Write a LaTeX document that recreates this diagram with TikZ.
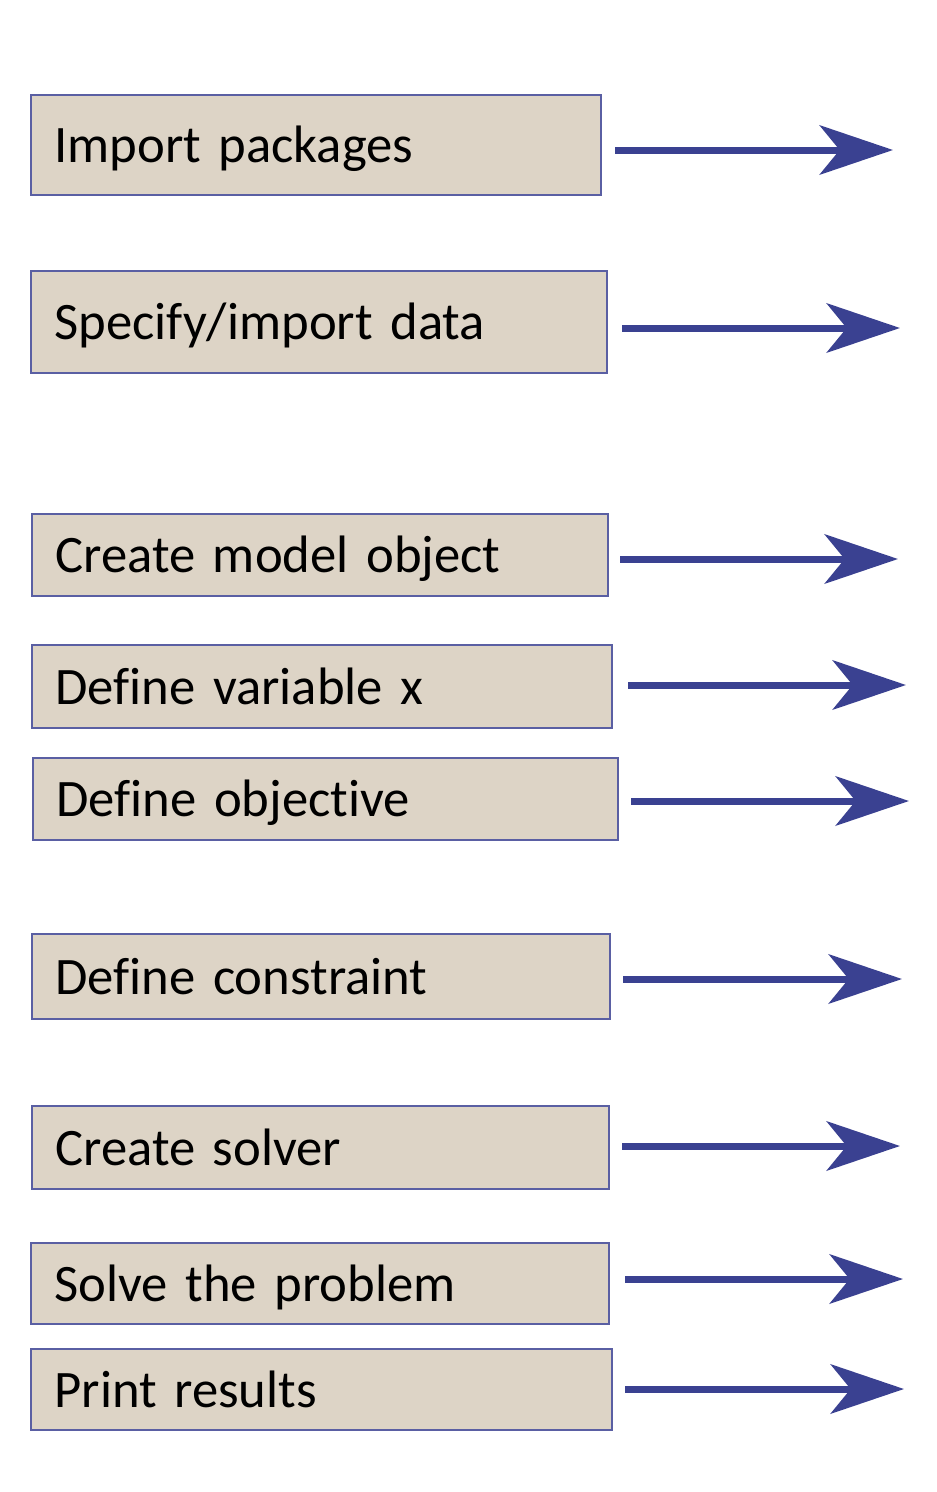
\documentclass[tikz,border=0pt]{standalone}
\usepackage{fontspec}
\setmainfont{Carlito}[Ligatures=NoCommon,WordSpace=0.85]
\usetikzlibrary{arrows.meta,positioning}
\definecolor{boxfill}{HTML}{DDD4C6}
\definecolor{boxline}{HTML}{5A5FA3}
\definecolor{arrowblue}{HTML}{3A4191}
\tikzset{main base/.style={draw=boxline,line width=1.6pt,fill=boxfill}, }
\tikzset{main node/.style={rectangle,main base,anchor=north west,
    inner xsep=17.5pt,align=left,text width=#1,
    text height=26.25pt,text depth=0pt,
    font=\fontsize{39.5}{47}\selectfont}, }
\tikzset{linea/.style={-{Stealth[length=55pt,width=37pt,inset=15pt]},line width=5.25pt,draw=arrowblue}}
\begin{document}
\begin{tikzpicture}[x=0.75pt,y=-0.75pt]
  \useasboundingbox (0,0) rectangle (936,1492);
  % steps
  \node[main node=392.5pt, minimum height=75pt] (1) at (30,94) {Import packages};
  \node[main node=397pt, minimum height=76.5pt] (2) at (30,270) {Specify/import data};
  \node[main node=397pt, minimum height=61.5pt] (3) at (31,513) {Create model object};
  \node[main node=400pt, minimum height=62.25pt] (4) at (31,644) {Define variable x};
  \node[main node=403.75pt, minimum height=61.5pt] (5) at (32,757) {Define objective};
  \node[main node=398.5pt, minimum height=63.75pt] (6) at (31,933) {Define constraint};
  \node[main node=397.75pt, minimum height=62.25pt] (7) at (31,1105) {Create solver};
  \node[main node=398.5pt, minimum height=60.75pt] (8) at (30,1242) {Solve the problem};
  \node[main node=400.75pt, minimum height=60.75pt] (9) at (30,1348) {Print results};
  % arrow ends
  \coordinate (s1) at (615,150);  \coordinate (e1) at (893,150);
  \coordinate (s2) at (622,328);  \coordinate (e2) at (900,328);
  \coordinate (s3) at (620,559);  \coordinate (e3) at (898,559);
  \coordinate (s4) at (628,685);  \coordinate (e4) at (906,685);
  \coordinate (s5) at (631,801);  \coordinate (e5) at (909,801);
  \coordinate (s6) at (623,979);  \coordinate (e6) at (902,979);
  \coordinate (s7) at (622,1146); \coordinate (e7) at (900,1146);
  \coordinate (s8) at (625,1279); \coordinate (e8) at (903,1279);
  \coordinate (s9) at (625,1389); \coordinate (e9) at (904,1389);
  \foreach \x in {1,...,9}
    \draw[linea] (s\x) -- (e\x);
\end{tikzpicture}
\end{document}
